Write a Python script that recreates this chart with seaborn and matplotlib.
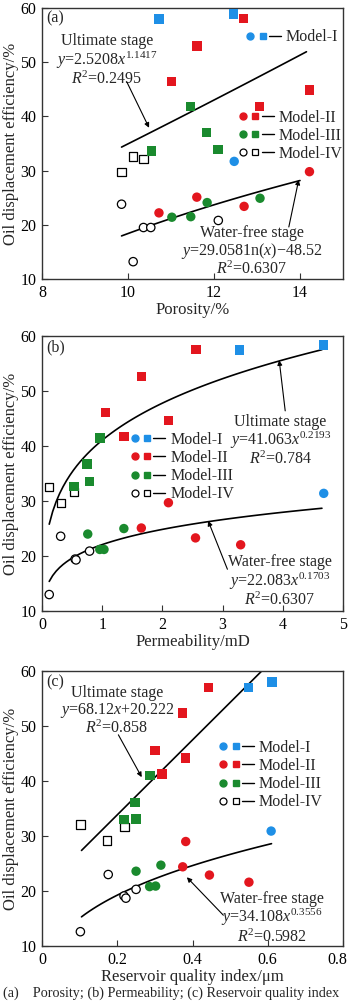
import numpy as np
import pandas as pd
import seaborn as sns
import matplotlib.pyplot as plt
from matplotlib.lines import Line2D
from matplotlib.legend_handler import HandlerTuple
from matplotlib.transforms import ScaledTranslation

# sample groups (same order in every panel)
ult_model = ["Model-I", "Model-I",
             "Model-II", "Model-II", "Model-II", "Model-II", "Model-II",
             "Model-III", "Model-III", "Model-III", "Model-III",
             "Model-IV", "Model-IV", "Model-IV"]
wf_model = ["Model-I",
            "Model-II", "Model-II", "Model-II", "Model-II",
            "Model-III", "Model-III", "Model-III", "Model-III",
            "Model-IV", "Model-IV", "Model-IV", "Model-IV", "Model-IV"]

# (a) porosity
poro_ult_x = [10.72, 12.45, 12.69, 11.60, 11.01, 14.22, 13.06, 11.46, 11.83, 12.09, 10.54, 9.85, 10.12, 10.36]
poro_ult_y = [58.0, 58.9, 58.1, 53.0, 46.4, 44.9, 41.8, 41.8, 37.0, 33.9, 33.6, 29.8, 32.6, 32.1]
poro_wf_x = [12.47, 14.22, 11.60, 10.72, 12.70, 11.02, 11.46, 11.84, 13.07, 9.85, 10.36, 10.53, 12.10, 10.12]
poro_wf_y = [31.7, 29.8, 25.1, 22.2, 23.4, 21.4, 21.5, 24.1, 24.9, 23.8, 19.5, 19.5, 20.8, 13.2]

# (b) permeability
perm_ult_x = [3.28, 4.68, 2.56, 1.65, 1.05, 2.10, 1.36, 0.96, 0.75, 0.79, 0.53, 0.12, 0.32, 0.53]
perm_ult_y = [57.45, 58.4, 57.6, 52.6, 46.1, 44.6, 41.7, 41.5, 36.7, 33.6, 32.6, 32.6, 29.6, 31.6]
perm_wf_x = [4.68, 2.10, 1.65, 2.55, 3.30, 0.76, 1.36, 0.96, 1.03, 0.12, 0.31, 0.55, 0.565, 0.79]
perm_wf_y = [31.4, 29.7, 25.1, 23.3, 22.05, 24.0, 25.0, 21.2, 21.2, 13.0, 23.6, 19.45, 19.3, 20.9]

# (c) reservoir quality index
rqi_ult_x = [0.549, 0.611, 0.443, 0.374, 0.300, 0.382, 0.319, 0.287, 0.247, 0.218, 0.250, 0.102, 0.219, 0.173]
rqi_ult_y = [57.0, 58.0, 57.0, 52.4, 45.6, 44.2, 41.3, 41.0, 36.1, 33.0, 33.1, 32.1, 31.6, 29.2]
rqi_wf_x = [0.609, 0.382, 0.374, 0.445, 0.550, 0.316, 0.250, 0.286, 0.302, 0.102, 0.176, 0.218, 0.223, 0.250]
rqi_wf_y = [30.9, 29.0, 24.4, 22.9, 21.6, 24.7, 23.6, 20.8, 20.9, 12.6, 23.0, 19.1, 18.7, 20.3]

colors = {"Model-I": "#1E8FE6", "Model-II": "#E3161E", "Model-III": "#1A8A2E"}
markers = {"Water-free": "o", "Ultimate": "s"}

sns.set_style("ticks")
plt.rcParams["font.family"] = ["Liberation Serif", "DejaVu Serif"]
plt.rcParams["mathtext.fontset"] = "custom"
plt.rcParams["mathtext.rm"] = "Liberation Serif"
plt.rcParams["mathtext.it"] = "Liberation Serif:italic"
plt.rcParams["axes.edgecolor"] = "#333333"
plt.rcParams["axes.linewidth"] = 1.0

FS = 12      # axis labels
FL = 11.5    # legend
FT = 11.5    # annotations, ticks

fig = plt.figure(figsize=(3.5, 10.08), dpi=100)


def make_df(ux, uy, wx, wy):
    d1 = pd.DataFrame({"x": ux, "y": uy, "model": ult_model, "stage": "Ultimate"})
    d2 = pd.DataFrame({"x": wx, "y": wy, "model": wf_model, "stage": "Water-free"})
    return pd.concat([d1, d2], ignore_index=True)


def scatter(ax, df):
    hollow = df[df.model == "Model-IV"]
    filled = df[df.model != "Model-IV"]
    sns.scatterplot(data=hollow, x="x", y="y", style="stage", markers=markers,
                    color="black", facecolor="white", edgecolor="black",
                    linewidth=0.9, s=36, legend=False, ax=ax, zorder=3)
    sns.scatterplot(data=filled, x="x", y="y", hue="model", style="stage",
                    markers=markers, palette=colors, edgecolor="none",
                    s=46, legend=False, ax=ax, zorder=4)


def fit_line(ax, xs, ys):
    sns.lineplot(x=xs, y=ys, color="black", lw=1.2, ax=ax, zorder=2)


def legend(ax, models, x, y):
    handles = []
    for m in models:
        if m == "Model-IV":
            kw = dict(markerfacecolor="white", markeredgecolor="black", markeredgewidth=0.9)
        else:
            kw = dict(markerfacecolor=colors[m], markeredgecolor=colors[m])
        circ = Line2D([], [], ls="none", marker="o", markersize=5, **kw)
        sq = Line2D([], [], ls="none", marker="s", markersize=5, **kw)
        dash = Line2D([], [], color="black", lw=1)
        handles.append((circ, sq, dash))
    leg = ax.legend(handles, models, handler_map={tuple: HandlerTuple(ndivide=None, pad=0)},
                    loc="upper left", bbox_to_anchor=(x, y), frameon=False,
                    borderpad=0, borderaxespad=0, handlelength=2.3,
                    handletextpad=0.3, labelspacing=0.14, fontsize=FL)
    return leg


def style(ax, xlim, xticks, xticklabels, xlabel, tag):
    ax.set_xlim(xlim)
    ax.set_ylim(10, 60)
    ax.set_xticks(xticks)
    ax.set_xticklabels(xticklabels)
    ax.set_yticks([10, 20, 30, 40, 50, 60])
    ax.tick_params(direction="in", length=4, width=0.8, labelsize=FT, pad=4,
                   top=False, right=False, colors="#333333", labelcolor="black")
    ax.set_xlabel(xlabel, fontsize=FS, labelpad=1)
    ax.set_ylabel("Oil displacement efficiency/%", fontsize=FS, labelpad=1)
    ax.text(0.015, 0.96, tag, transform=ax.transAxes, fontsize=FT, va="center", ha="left")


def arrow(ax, tail, head):
    ax.annotate("", xy=head, xytext=tail,
                arrowprops=dict(arrowstyle="-|>", color="black", lw=0.8,
                                mutation_scale=7, shrinkA=0, shrinkB=0))


# ---- (a) porosity
ax = fig.add_axes([0.12, 0.7232, 0.86, 0.2689])
scatter(ax, make_df(poro_ult_x, poro_ult_y, poro_wf_x, poro_wf_y))
xs = np.linspace(9.85, 14.15, 50)
fit_line(ax, xs, 2.5208 * xs ** 1.1417)
xs = np.linspace(9.85, 14.0, 50)
fit_line(ax, xs, 29.058 * np.log(xs) - 48.52)
style(ax, (8, 15), [8, 10, 12, 14], ["8", "10", "12", "14"], "Porosity/%", "(a)")
ax.text(9.51, 55.3, "Ultimate stage\n$y$=2.5208$x^{1.1417}$\n$R^2$=0.2495",
        ha="center", va="top", fontsize=FT, linespacing=1.0)
arrow(ax, (9.97, 46.4), (10.49, 37.9))
ax.text(12.88, 20.0, "Water-free stage\n$y$=29.0581n($x$)\u221248.52\n$R^2$=0.6307",
        ha="center", va="top", fontsize=FT, linespacing=1.0)
arrow(ax, (13.74, 19.6), (13.97, 28.3))
leg1 = legend(ax, ["Model-I"], 0.672, 0.922)
ax.add_artist(leg1)
legend(ax, ["Model-II", "Model-III", "Model-IV"], 0.648, 0.625)

# ---- (b) permeability
ax = fig.add_axes([0.12, 0.3938, 0.86, 0.2728])
scatter(ax, make_df(perm_ult_x, perm_ult_y, perm_wf_x, perm_wf_y))
xs = np.linspace(0.12, 4.65, 80)
fit_line(ax, xs, 41.063 * xs ** 0.2193)
fit_line(ax, xs, 22.083 * xs ** 0.1703)
style(ax, (0, 5), [0, 1, 2, 3, 4, 5], ["0", "1", "2", "3", "4", "5"], "Permeability/mD", "(b)")
ax.text(3.96, 45.9, "Ultimate stage\n$y$=41.063$x^{0.2193}$\n$R^2$=0.784",
        ha="center", va="top", fontsize=FT, linespacing=1.0)
arrow(ax, (4.04, 46.4), (3.94, 55.6))
ax.text(3.95, 20.3, "Water-free stage\n$y$=22.083$x^{0.1703}$\n$R^2$=0.6307",
        ha="center", va="top", fontsize=FT, linespacing=1.0)
arrow(ax, (3.08, 17.6), (2.76, 26.4))
legend(ax, ["Model-I", "Model-II", "Model-III", "Model-IV"], 0.288, 0.652)

# ---- (c) reservoir quality index
ax = fig.add_axes([0.12, 0.0615, 0.86, 0.2728])
scatter(ax, make_df(rqi_ult_x, rqi_ult_y, rqi_wf_x, rqi_wf_y))
xs = np.linspace(0.105, 0.6, 50)
fit_line(ax, xs, 68.12 * xs + 20.222)
xs = np.linspace(0.105, 0.61, 50)
fit_line(ax, xs, 34.108 * xs ** 0.3556)
style(ax, (0, 0.8), [0, 0.2, 0.4, 0.6, 0.8], ["0", "0.2", "0.4", "0.6", "0.8"],
      "Reservoir quality index/\u03bcm", "(c)")
last = ax.get_xticklabels()[-1]
last.set_transform(last.get_transform() + ScaledTranslation(-4 / 72, 0, fig.dpi_scale_trans))
ax.text(0.199, 57.5, "Ultimate stage\n$y$=68.12$x$+20.222\n$R^2$=0.858",
        ha="center", va="top", fontsize=FT, linespacing=1.0)
arrow(ax, (0.203, 48.4), (0.265, 40.7))
ax.text(0.611, 20.0, "Water-free stage\n$y$=34.108$x^{0.3556}$\n$R^2$=0.5982",
        ha="center", va="top", fontsize=FT, linespacing=1.0)
arrow(ax, (0.482, 15.6), (0.385, 22.5))
legend(ax, ["Model-I", "Model-II", "Model-III", "Model-IV"], 0.582, 0.75)

fig.text(0.008, 1 - 993 / 1008, "(a)    Porosity; (b) Permeability; (c) Reservoir quality index",
         fontsize=10.2, va="center", ha="left")

fig.savefig("out.png", dpi=100)
